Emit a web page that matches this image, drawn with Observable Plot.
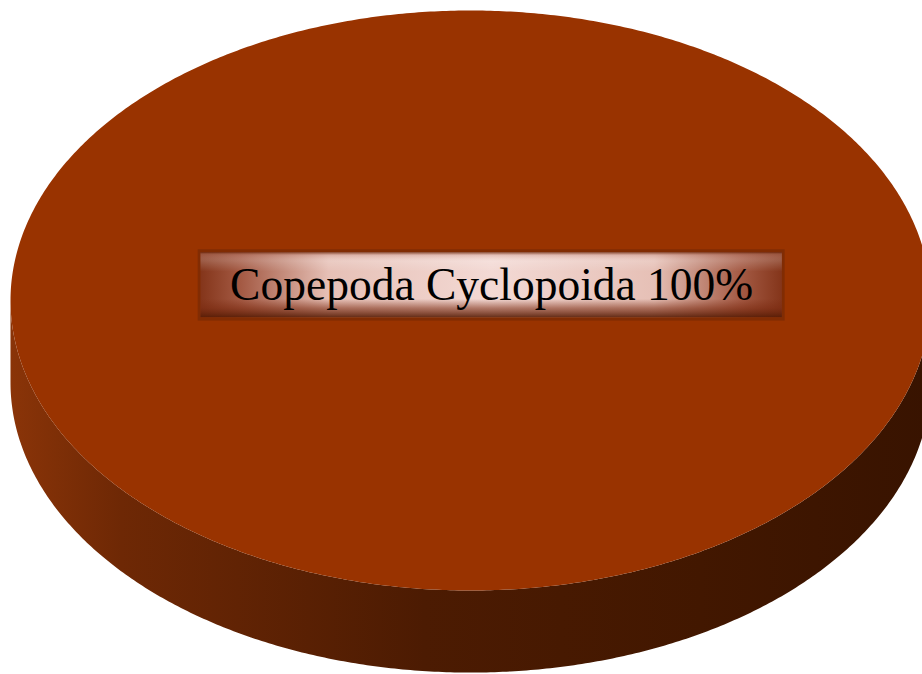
<!DOCTYPE html>
<html>
<head>
<meta charset="utf-8">
<script src="https://cdn.jsdelivr.net/npm/d3@7"></script>
<script src="https://cdn.jsdelivr.net/npm/@observablehq/plot@0.6"></script>
<style>
  html, body { margin: 0; padding: 0; background: #ffffff; overflow: hidden; }
  #chart { width: 922px; height: 674px; overflow: hidden; }
</style>
</head>
<body>
<div id="chart"></div>
<script>
// Composition of the sample (percent of individuals)
const categories = ["Copepoda Cyclopoida"];
const values = [100];
const labels = ["Copepoda Cyclopoida 100%"];
const sliceColors = ["#993300"];

// Pie geometry in unit coordinates; the x/y scales squash the circle into a tilted ellipse
const depth = 0.283;          // thickness of the disc, in y units
const step = Math.PI / 360;

const arcs = d3.pie().sort(null).startAngle(0).endAngle(2 * Math.PI)(values);
const pt = a => ({x: Math.sin(a), y: Math.cos(a)});

const topPts = [];
const sidePts = [];
arcs.forEach((arc, i) => {
  const name = categories[i];
  topPts.push({slice: name, x: 0, y: 0});
  for (let a = arc.startAngle; a <= arc.endAngle + 1e-9; a += step) topPts.push({slice: name, ...pt(a)});
  // front wall: the part of the rim facing the viewer (angles between 90° and 270°)
  const a0 = Math.max(arc.startAngle, Math.PI / 2);
  const a1 = Math.min(arc.endAngle, 3 * Math.PI / 2);
  if (a1 > a0) {
    const rim = [];
    for (let a = a0; a <= a1 + 1e-9; a += step) rim.push(pt(a));
    rim.forEach(p => sidePts.push({slice: name, x: p.x, y: p.y}));
    rim.slice().reverse().forEach(p => sidePts.push({slice: name, x: p.x, y: p.y - depth}));
  }
});

// Data label box, placed near the middle of the top face
const labelPos = [{label: labels[0], x: 0.046, y: 0.053, hw: 0.632, hh: 0.112}];

// Gradients used by the wall and the label box
const defs = () => {
  const d = d3.create("svg:defs");
  const side = d.append("linearGradient").attr("id", "pieSide").attr("x1", 0).attr("x2", 1).attr("y1", 0).attr("y2", 0);
  [[0, "#8a3408"], [0.12, "#6e2805"], [0.45, "#4c1b02"], [0.75, "#421700"], [1, "#381300"]]
    .forEach(([o, c]) => side.append("stop").attr("offset", o).attr("stop-color", c));
  const lh = d.append("linearGradient").attr("id", "labelH").attr("x1", 0).attr("x2", 1).attr("y1", 0).attr("y2", 0);
  [[0, "#84351a"], [0.07, "#a45a44"], [0.22, "#e6c0b6"], [0.5, "#f3d9d4"], [0.78, "#e6c0b6"], [0.93, "#a45a44"], [1, "#84351a"]]
    .forEach(([o, c]) => lh.append("stop").attr("offset", o).attr("stop-color", c));
  const lv = d.append("linearGradient").attr("id", "labelV").attr("x1", 0).attr("x2", 0).attr("y1", 0).attr("y2", 1);
  [[0, "#6a2408", 0.85], [0.05, "#c9968a", 0.35], [0.14, "#ffffff", 0.18], [0.3, "#ffffff", 0], [0.72, "#7a2a10", 0], [0.86, "#7a2a10", 0.55], [1, "#561c05", 0.9]]
    .forEach(([o, c, op]) => lv.append("stop").attr("offset", o).attr("stop-color", c).attr("stop-opacity", op));
  return d.node();
};

const chart = Plot.plot({
  width: 922,
  height: 674,
  margin: 0,
  x: {domain: [-1, 1], range: [10, 930], axis: null},
  y: {domain: [-1, 1], range: [590, 10], axis: null},
  marks: [
    defs,
    Plot.line(sidePts, {x: "x", y: "y", z: "slice", fill: "url(#pieSide)", stroke: "none", curve: "linear"}),
    Plot.line(topPts, {x: "x", y: "y", z: "slice", fill: (d) => sliceColors[categories.indexOf(d.slice)], stroke: "none", curve: "linear"}),
    Plot.rect(labelPos, {x1: d => d.x - d.hw - 0.006, x2: d => d.x + d.hw + 0.006, y1: d => d.y - d.hh - 0.012, y2: d => d.y + d.hh + 0.01, fill: "#6e2606", fillOpacity: 0.55}),
    Plot.rect(labelPos, {x1: d => d.x - d.hw, x2: d => d.x + d.hw, y1: d => d.y - d.hh, y2: d => d.y + d.hh, fill: "url(#labelH)"}),
    Plot.rect(labelPos, {x1: d => d.x - d.hw, x2: d => d.x + d.hw, y1: d => d.y - d.hh, y2: d => d.y + d.hh, fill: "url(#labelV)"}),
    Plot.text(labelPos, {x: "x", y: "y", text: "label", fontSize: 45.5, fontFamily: "Liberation Serif, Times New Roman, serif", fill: "#000000", textAnchor: "middle"})
  ]
});

document.getElementById("chart").appendChild(chart);
</script>
</body>
</html>
